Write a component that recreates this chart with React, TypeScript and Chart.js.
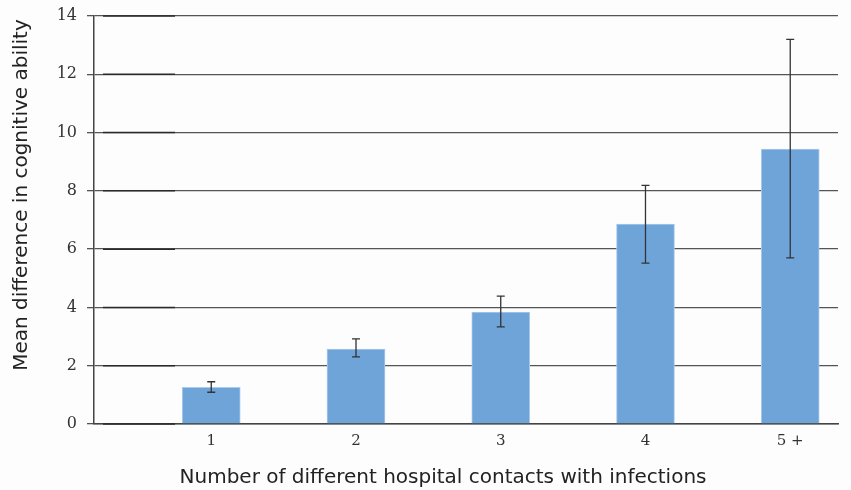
import React, { useEffect, useRef } from "react";
import { Chart, registerables } from "chart.js";

Chart.register(...registerables);

const categories = ["1", "2", "3", "4", "5 +"];
const positions = [1, 2, 3, 4, 5];
const means = [1.26, 2.57, 3.84, 6.86, 9.43];
const lowerCI = [1.09, 2.3, 3.33, 5.52, 5.7];
const upperCI = [1.45, 2.92, 4.39, 8.19, 13.2];
const yTicks = [0, 2, 4, 6, 8, 10, 12, 14];
const xTitle = "Number of different hospital contacts with infections";
const yTitle = "Mean difference in cognitive ability";

const errorBarPlugin = {
  id: "errorBars",
  afterDatasetsDraw(chart: any) {
    const { ctx, scales } = chart;
    const x = scales.x;
    const y = scales.y;
    ctx.save();
    ctx.strokeStyle = "#333333";
    ctx.lineWidth = 1.3;
    positions.forEach((p, i) => {
      const px = x.getPixelForValue(p);
      const yt = y.getPixelForValue(upperCI[i]);
      const yb = y.getPixelForValue(lowerCI[i]);
      ctx.beginPath();
      ctx.moveTo(px, yt);
      ctx.lineTo(px, yb);
      ctx.moveTo(px - 4, yt);
      ctx.lineTo(px + 4, yt);
      ctx.moveTo(px - 4, yb);
      ctx.lineTo(px + 4, yb);
      ctx.stroke();
    });
    ctx.restore();
  },
};

const darkSegmentsPlugin = {
  id: "darkSegments",
  beforeDatasetsDraw(chart: any) {
    const { ctx, scales } = chart;
    const y = scales.y;
    const left = chart.chartArea.left;
    ctx.save();
    ctx.strokeStyle = "#2a2a2a";
    ctx.lineWidth = 1.5;
    yTicks.forEach((t) => {
      const py = y.getPixelForValue(t);
      ctx.beginPath();
      ctx.moveTo(left + 9, py);
      ctx.lineTo(left + 81, py);
      ctx.stroke();
    });
    ctx.restore();
  },
};

const titlesPlugin = {
  id: "axisTitles",
  afterDraw(chart: any) {
    const { ctx } = chart;
    ctx.save();
    ctx.fillStyle = "#222222";
    ctx.font = "20px 'DejaVu Sans'";
    ctx.textAlign = "center";
    ctx.textBaseline = "middle";
    ctx.fillText(xTitle, 443, 478);
    ctx.translate(22, 195);
    ctx.rotate(-Math.PI / 2);
    ctx.fillText(yTitle, 0, 0);
    ctx.restore();
  },
};

export default function App() {
  const ref = useRef<HTMLCanvasElement>(null);
  useEffect(() => {
    if (!ref.current) return;
    const chart = new Chart(ref.current, {
      type: "bar",
      data: {
        datasets: [
          {
            data: positions.map((p, i) => ({ x: p, y: means[i] })) as any,
            backgroundColor: "#6fa4d9",
            borderColor: "#a9cbee",
            borderWidth: { left: 1, right: 1, top: 1, bottom: 0 } as any,
            barThickness: 58,
          },
        ],
      },
      options: {
        animation: false,
        responsive: false,
        maintainAspectRatio: false,
        layout: { padding: { top: 16, right: 13, left: 0, bottom: 0 } },
        plugins: { legend: { display: false }, tooltip: { enabled: false } },
        scales: {
          x: {
            type: "linear",
            offset: false,
            min: 0.19,
            max: 5.33,
            afterBuildTicks: (scale: any) => {
              scale.ticks = positions.map((v) => ({ value: v }));
            },
            afterFit: (scale: any) => {
              scale.height = 66;
              scale.paddingLeft = 0;
              scale.paddingRight = 0;
            },
            grid: { display: false, drawTicks: false },
            border: { display: true, color: "#444444", width: 1.5 },
            ticks: {
              padding: 8,
              color: "#333333",
              font: { family: "DejaVu Serif", size: 15 },
              callback: (v: any) => {
                const i = positions.indexOf(Number(v));
                return i >= 0 ? categories[i] : "";
              },
            },
          },
          y: {
            min: 0,
            max: 14,
            afterBuildTicks: (scale: any) => {
              scale.ticks = yTicks.map((v) => ({ value: v }));
            },
            afterFit: (scale: any) => {
              scale.width = 94;
              scale.paddingTop = 0;
              scale.paddingBottom = 0;
            },
            grid: {
              color: "#555555",
              lineWidth: 1.3,
              tickLength: 7,
              drawTicks: true,
            },
            border: { display: true, color: "#444444", width: 1.5 },
            ticks: {
              padding: 10,
              color: "#333333",
              font: { family: "DejaVu Serif", size: 16 },
            },
          },
        },
      },
      plugins: [darkSegmentsPlugin, errorBarPlugin, titlesPlugin],
    });
    return () => chart.destroy();
  }, []);
  return (
    <div style={{ position: "fixed", left: 0, top: 0, width: 851, height: 490, background: "#fdfdfd" }}>
      <canvas ref={ref} width={851} height={490} style={{ width: 851, height: 490 }} />
    </div>
  );
}
